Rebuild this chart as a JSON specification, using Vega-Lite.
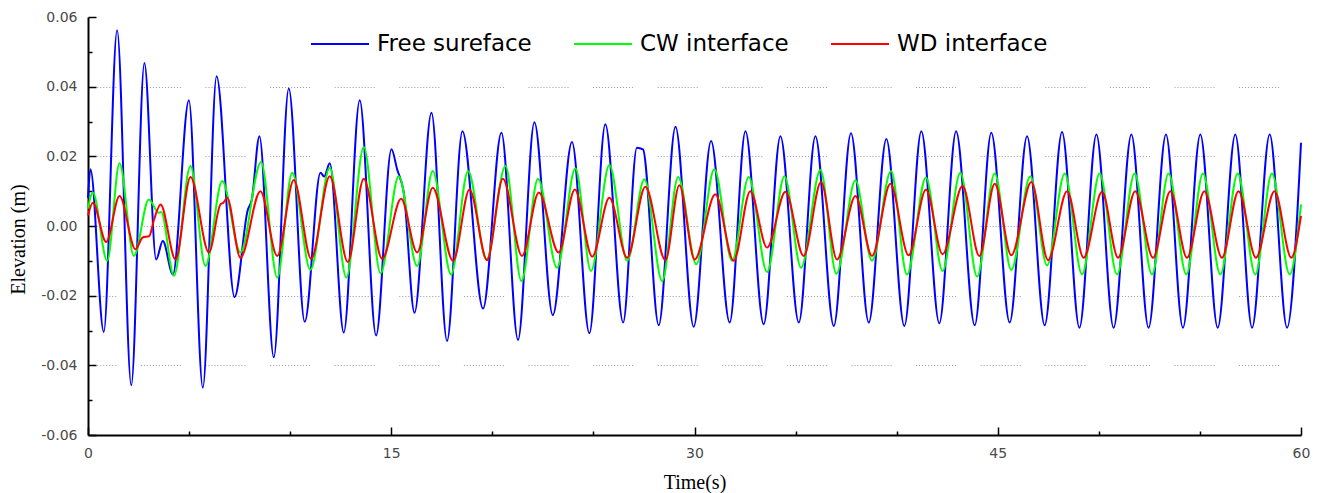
{
  "$schema": "https://vega.github.io/schema/vega-lite/v6.json",
  "autosize": {"type": "none"},
  "padding": {"left": 88, "top": 17, "right": 18, "bottom": 58},
  "width": 1213,
  "height": 418,
  "background": "white",
  "config": {"view": {"stroke": null}},
  "encoding": {
    "x": {"field": "t", "type": "quantitative",
      "scale": {"domain": [0, 60], "nice": false, "zero": false},
      "axis": {
        "title": "Time(s)", "titleFont": "Liberation Serif", "titleFontSize": 20, "titleFontWeight": "normal", "titleColor": "#000",
        "titleY": 47, "titleBaseline": "middle",
        "values": [0,5,10,15,20,25,30,35,40,45,50,55,60],
        "labelExpr": "datum.value % 15 == 0 ? format(datum.value, 'd') : ''",
        "labelFont": "DejaVu Sans", "labelFontSize": 14, "labelColor": "#4a4a4a",
        "labelPadding": 19, "labelFlush": false,
        "tickSize": {"condition": {"test": "datum.value % 15 == 0", "value": -8}, "value": -4},
        "tickColor": "#000", "tickWidth": 1.5,
        "domainColor": "#000", "domainWidth": 2, "grid": false
      }
    },
    "y": {"field": "v", "type": "quantitative",
      "scale": {"domain": [-0.06, 0.06], "nice": false, "zero": false},
      "axis": {
        "title": "Elevation (m)", "titleFont": "Liberation Serif", "titleFontSize": 20, "titleFontWeight": "normal", "titleColor": "#000",
        "titleX": -70, "titleY": 222, "titleAngle": 270, "titleAlign": "center", "titleBaseline": "middle",
        "values": [-0.06,-0.05,-0.04,-0.03,-0.02,-0.01,0,0.01,0.02,0.03,0.04,0.05,0.06],
        "labelExpr": "round(datum.value*100) % 2 == 0 ? replace(format(datum.value, '.2f'), '\u2212', '-') : ''",
        "labelFont": "DejaVu Sans", "labelFontSize": 14, "labelColor": "#4a4a4a",
        "labelPadding": 19, "labelFlush": false,
        "tickSize": {"condition": {"test": "round(datum.value*100) % 2 == 0", "value": -8}, "value": -4},
        "tickColor": "#000", "tickWidth": 1.5,
        "domainColor": "#000", "domainWidth": 2,
        "grid": true, "gridColor": "#9a9a9a", "gridWidth": 1,
        "gridDash": [1,2,1,2,1,2,1,2,1,2,1,2,1,2,1,2,1,2,1,2,1,2,1,2,1,2,1,24.6],
        "gridDashOffset": 12.2,
        "gridOpacity": {"condition": {"test": "round(datum.value*100) % 2 == 0 && abs(datum.value) < 0.05", "value": 1}, "value": 0}
      }
    }
  },
  "layer": [
    {
      "data": {"values": [
        {"t":0,"v":0.008},{"t":0.12,"v":0.0163},{"t":0.78,"v":-0.0304},{"t":1.44,"v":0.0562},{"t":2.14,"v":-0.0457},
        {"t":2.79,"v":0.0468},{"t":3.37,"v":-0.0096},{"t":3.70,"v":-0.0043},{"t":4.20,"v":-0.0139},{"t":4.99,"v":0.0361},
        {"t":5.68,"v":-0.0464},{"t":6.36,"v":0.0430},{"t":7.25,"v":-0.0204},{"t":7.9,"v":0.0045},{"t":8.1,"v":0.0075},
        {"t":8.48,"v":0.0258},{"t":9.19,"v":-0.0377},{"t":9.93,"v":0.0395},{"t":10.72,"v":-0.0275},{"t":11.50,"v":0.0153},
        {"t":11.68,"v":0.0142},{"t":11.96,"v":0.0180},{"t":12.65,"v":-0.0306},{"t":13.44,"v":0.0361},{"t":14.25,"v":-0.0314},
        {"t":15.01,"v":0.0220},{"t":15.29,"v":0.0163},{"t":15.62,"v":0.0096},{"t":16.15,"v":-0.0249},{"t":16.99,"v":0.0325},
        {"t":17.76,"v":-0.0330},{"t":18.52,"v":0.0272},{"t":19.54,"v":-0.0237},{"t":20.45,"v":0.0268},{"t":21.27,"v":-0.0327},
        {"t":22.08,"v":0.0298},{"t":22.99,"v":-0.0256},{"t":23.94,"v":0.0241},{"t":24.80,"v":-0.0308},{"t":25.59,"v":0.0292},
        {"t":26.47,"v":-0.0277},{"t":27.15,"v":0.0225},{"t":27.45,"v":0.0220},{"t":28.23,"v":-0.0285},{"t":29.06,"v":0.0285},
        {"t":29.96,"v":-0.0289},{"t":30.82,"v":0.0244},{"t":31.74,"v":-0.0277},{"t":32.52,"v":0.0272},{"t":33.42,"v":-0.0282},
        {"t":34.25,"v":0.0258},{"t":35.16,"v":-0.0277},{"t":35.98,"v":0.0258},{"t":36.89,"v":-0.0287},{"t":37.74,"v":0.0266},
        {"t":38.62,"v":-0.0277},{"t":39.49,"v":0.0250},{"t":40.38,"v":-0.0287},{"t":41.22,"v":0.0272},{"t":42.11,"v":-0.0279},
        {"t":42.94,"v":0.0272},{"t":43.86,"v":-0.0285},{"t":44.68,"v":0.0268},{"t":45.59,"v":-0.0277},{"t":46.45,"v":0.0258},
        {"t":47.32,"v":-0.0285},{"t":48.18,"v":0.0270},{"t":49.04,"v":-0.0292},{"t":49.88,"v":0.0263},{"t":50.73,"v":-0.0292},
        {"t":51.61,"v":0.0263},{"t":52.46,"v":-0.0292},{"t":53.32,"v":0.0263},{"t":54.16,"v":-0.0292},{"t":55.02,"v":0.0263},
        {"t":55.88,"v":-0.0292},{"t":56.75,"v":0.0263},{"t":57.58,"v":-0.0292},{"t":58.45,"v":0.0263},{"t":59.31,"v":-0.0292},
        {"t":60.0,"v":0.0239}
      ]},
      "mark": {"type": "line", "interpolate": "monotone", "strokeWidth": 2},
      "encoding": {
        "color": {"datum": "Free sureface", "type": "nominal",
          "scale": {"domain": ["Free sureface", "CW interface", "WD interface"], "range": ["#0000ff", "#00ff00", "#ff0000"]},
          "legend": {"orient": "none", "legendX": 222, "legendY": -3, "direction": "horizontal", "title": null,
            "symbolType": "stroke", "symbolSize": 3364, "symbolStrokeWidth": 2,
            "labelFont": "DejaVu Sans", "labelFontSize": 23, "labelColor": "#000", "labelOffset": 7,
            "columnPadding": 38, "padding": 0, "labelLimit": 400}
        }
      }
    },
    {
      "data": {"values": [
        {"t":0,"v":0.005},{"t":0.24,"v":0.0096},{"t":0.95,"v":-0.0100},{"t":1.56,"v":0.0180},{"t":2.27,"v":-0.0086},
        {"t":3.01,"v":0.0076},{"t":3.50,"v":0.0038},{"t":3.62,"v":0.0040},{"t":4.25,"v":-0.0143},{"t":5.07,"v":0.0172},
        {"t":5.81,"v":-0.0115},{"t":6.64,"v":0.0129},{"t":7.54,"v":-0.0076},{"t":8.56,"v":0.0184},{"t":9.36,"v":-0.0148},
        {"t":10.10,"v":0.0153},{"t":11.0,"v":-0.0126},{"t":11.96,"v":0.0167},{"t":12.78,"v":-0.0148},{"t":13.64,"v":0.0227},
        {"t":14.47,"v":-0.0136},{"t":15.37,"v":0.0143},{"t":16.28,"v":-0.0115},{"t":17.05,"v":0.0158},{"t":17.96,"v":-0.0139},
        {"t":18.80,"v":0.0158},{"t":19.71,"v":-0.0096},{"t":20.65,"v":0.0172},{"t":21.44,"v":-0.0158},{"t":22.26,"v":0.0136},
        {"t":23.20,"v":-0.0120},{"t":24.11,"v":0.0165},{"t":24.88,"v":-0.0129},{"t":25.79,"v":0.0175},{"t":26.67,"v":-0.0100},
        {"t":27.52,"v":0.0134},{"t":28.40,"v":-0.0158},{"t":29.19,"v":0.0141},{"t":30.09,"v":-0.0110},{"t":30.98,"v":0.0163},
        {"t":31.86,"v":-0.0100},{"t":32.68,"v":0.0141},{"t":33.59,"v":-0.0132},{"t":34.45,"v":0.0143},{"t":35.27,"v":-0.0120},
        {"t":36.23,"v":0.0161},{"t":37.02,"v":-0.0137},{"t":37.96,"v":0.0131},{"t":38.78,"v":-0.0100},{"t":39.72,"v":0.0158},
        {"t":40.51,"v":-0.0139},{"t":41.45,"v":0.0139},{"t":42.27,"v":-0.0129},{"t":43.15,"v":0.0153},{"t":43.98,"v":-0.0145},
        {"t":44.85,"v":0.0151},{"t":45.67,"v":-0.0126},{"t":46.61,"v":0.0143},{"t":47.44,"v":-0.0113},{"t":48.31,"v":0.0151},
        {"t":49.17,"v":-0.0139},{"t":50.04,"v":0.0151},{"t":50.90,"v":-0.0139},{"t":51.77,"v":0.0151},{"t":52.63,"v":-0.0139},
        {"t":53.45,"v":0.0151},{"t":54.33,"v":-0.0139},{"t":55.15,"v":0.0151},{"t":56.01,"v":-0.0139},{"t":56.87,"v":0.0151},
        {"t":57.74,"v":-0.0139},{"t":58.56,"v":0.0151},{"t":59.44,"v":-0.0139},{"t":60.0,"v":0.0062}
      ]},
      "mark": {"type": "line", "interpolate": "monotone", "strokeWidth": 2},
      "encoding": {"color": {"datum": "CW interface", "type": "nominal"}}
    },
    {
      "data": {"values": [
        {"t":0,"v":0.003},{"t":0.24,"v":0.0067},{"t":0.90,"v":-0.0046},{"t":1.56,"v":0.0086},{"t":2.35,"v":-0.0067},
        {"t":2.70,"v":-0.0033},{"t":3.03,"v":-0.0029},{"t":3.27,"v":0.0019},{"t":3.59,"v":0.0062},{"t":4.33,"v":-0.0096},
        {"t":5.07,"v":0.0141},{"t":5.98,"v":-0.0076},{"t":6.55,"v":0.0062},{"t":6.70,"v":0.0067},{"t":6.88,"v":0.0081},
        {"t":7.54,"v":-0.0091},{"t":8.53,"v":0.0100},{"t":9.36,"v":-0.0086},{"t":10.18,"v":0.0132},{"t":11.04,"v":-0.0094},
        {"t":11.96,"v":0.0143},{"t":12.85,"v":-0.0103},{"t":13.64,"v":0.0136},{"t":14.55,"v":-0.0094},{"t":15.49,"v":0.0078},
        {"t":16.28,"v":-0.0076},{"t":17.05,"v":0.0110},{"t":18.06,"v":-0.0100},{"t":18.87,"v":0.0105},{"t":19.74,"v":-0.0098},
        {"t":20.52,"v":0.0136},{"t":21.47,"v":-0.0086},{"t":22.30,"v":0.0096},{"t":23.28,"v":-0.0076},{"t":24.08,"v":0.0105},
        {"t":24.94,"v":-0.0088},{"t":25.79,"v":0.0081},{"t":26.67,"v":-0.0091},{"t":27.57,"v":0.0113},{"t":28.56,"v":-0.0098},
        {"t":29.25,"v":0.0117},{"t":30.01,"v":-0.0096},{"t":31.03,"v":0.0091},{"t":31.94,"v":-0.0100},{"t":32.76,"v":0.0100},
        {"t":33.59,"v":-0.0062},{"t":34.50,"v":0.0098},{"t":35.40,"v":-0.0086},{"t":36.26,"v":0.0126},{"t":37.05,"v":-0.0096},
        {"t":37.96,"v":0.0086},{"t":38.78,"v":-0.0086},{"t":39.69,"v":0.0121},{"t":40.59,"v":-0.0084},{"t":41.45,"v":0.0105},
        {"t":42.27,"v":-0.0081},{"t":43.26,"v":0.0115},{"t":44.09,"v":-0.0086},{"t":44.85,"v":0.0121},{"t":45.67,"v":-0.0084},
        {"t":46.66,"v":0.0126},{"t":47.49,"v":-0.0098},{"t":48.43,"v":0.0100},{"t":49.25,"v":-0.0091},{"t":50.16,"v":0.0098},
        {"t":50.95,"v":-0.0091},{"t":51.80,"v":0.0100},{"t":52.68,"v":-0.0091},{"t":53.54,"v":0.0100},{"t":54.36,"v":-0.0091},
        {"t":55.22,"v":0.0100},{"t":56.09,"v":-0.0091},{"t":56.91,"v":0.0100},{"t":57.77,"v":-0.0091},{"t":58.69,"v":0.0100},
        {"t":59.52,"v":-0.0091},{"t":60.0,"v":0.0029}
      ]},
      "mark": {"type": "line", "interpolate": "monotone", "strokeWidth": 2},
      "encoding": {"color": {"datum": "WD interface", "type": "nominal"}}
    }
  ]
}
